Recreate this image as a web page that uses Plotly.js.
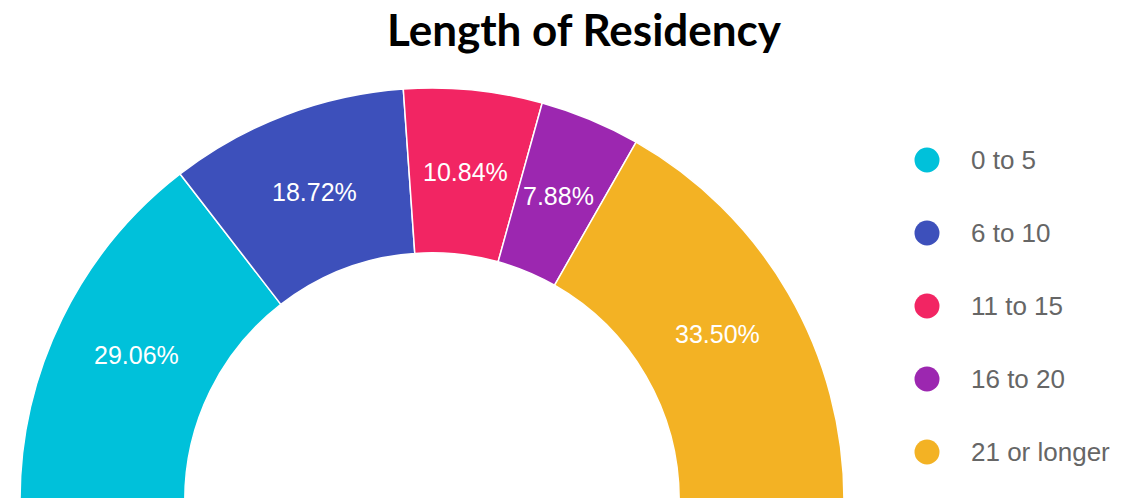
<!DOCTYPE html>
<html>
<head>
<meta charset="utf-8">
<script src="https://cdn.plot.ly/plotly-3.0.1.min.js"></script>
<style>
html,body{margin:0;padding:0;overflow:hidden;background:#fff;}
#chart{width:1145px;height:1000px;}
</style>
</head>
<body>
<div id="chart"></div>
<script>
var categories = ["0 to 5", "6 to 10", "11 to 15", "16 to 20", "21 or longer"];
var shares = [29.06, 18.72, 10.84, 7.88, 33.50];
var colors = ["#00C1DA", "#3D50BB", "#F22563", "#9C27B0", "#F3B224"];

var W = 1145, H = 1000;
var total = shares.reduce(function(a,b){return a+b;}, 0);

// full pie with a hidden lower half so the visible part is a semicircle
var values = shares.concat([total]);
var labels = categories.concat(["hidden"]);
var sliceColors = colors.concat(["rgba(0,0,0,0)"]);
var lineWidths = shares.map(function(){return 1.5;}).concat([0]);

var cx = 432, cy = 500, R = 412, hole = 0.6;
var trace = {
  type: "pie",
  values: values,
  labels: labels,
  sort: false,
  direction: "clockwise",
  rotation: -90,
  hole: hole,
  marker: {colors: sliceColors, line: {color: "#ffffff", width: lineWidths}},
  textinfo: "none",
  hoverinfo: "none",
  showlegend: false,
  domain: {x: [(cx - R)/W, (cx + R)/W], y: [(H - cy - R)/H, (H - cy + R)/H]}
};

var shapes = [], annotations = [];

// slice labels, horizontal, at the middle of each ring segment
var rMid = R * (1 + hole) / 2;
var cum = 0;
shares.forEach(function(v){
  var frac = (cum + v/2) / (2*total);          // fraction of the full circle from 9 o'clock, clockwise
  var ang = Math.PI - frac * 2 * Math.PI;       // standard math angle
  cum += v;
  annotations.push({
    xref: "paper", yref: "paper",
    x: (cx + rMid*Math.cos(ang))/W, y: 1 - (cy - rMid*Math.sin(ang))/H,
    xanchor: "center", yanchor: "middle", showarrow: false,
    text: v.toFixed(2) + "%",
    font: {family: "Liberation Sans, Arial, sans-serif", size: 25, color: "#ffffff"}
  });
});

// custom legend with large circular markers
var legendX = 927, textX = 969, legendY0 = 160, legendStep = 73, markerR = 12.5;
categories.forEach(function(cat, i){
  var py = legendY0 + i*legendStep;
  shapes.push({
    type: "circle", xref: "paper", yref: "paper",
    xsizemode: "pixel", ysizemode: "pixel",
    xanchor: legendX/W, yanchor: 1 - py/H,
    x0: -markerR, x1: markerR, y0: -markerR, y1: markerR,
    fillcolor: colors[i], line: {width: 0}
  });
  annotations.push({
    xref: "paper", yref: "paper", x: textX/W, y: 1 - py/H,
    xanchor: "left", yanchor: "middle", showarrow: false,
    text: cat,
    font: {family: "Liberation Sans, Arial, sans-serif", size: 26, color: "#666666"}
  });
});

var layout = {
  width: W, height: H,
  margin: {l: 0, r: 0, t: 0, b: 0},
  paper_bgcolor: "#ffffff",
  title: {
    text: "<b>Length of Residency</b>",
    x: 584/W, xanchor: "center",
    y: 1 - 31/H, yanchor: "middle",
    font: {family: "Lato, sans-serif", size: 44, color: "#000000"}
  },
  shapes: shapes,
  annotations: annotations,
  showlegend: false
};

Plotly.newPlot("chart", [trace], layout, {displayModeBar: false, staticPlot: true});
</script>
</body>
</html>
